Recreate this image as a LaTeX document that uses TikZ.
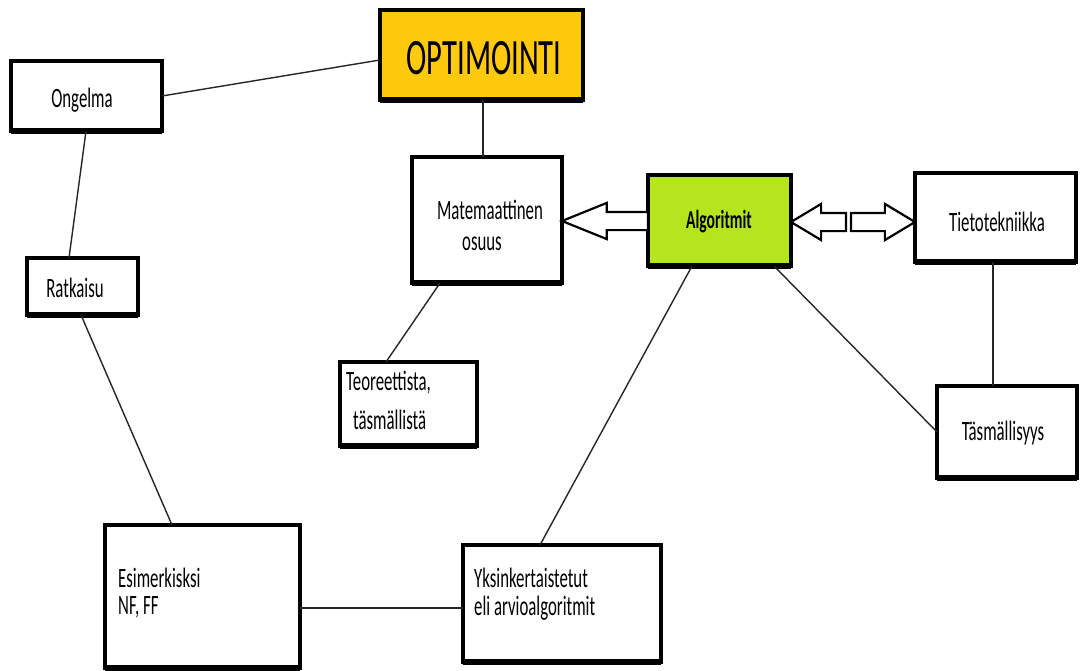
\documentclass[tikz,border=0pt]{standalone}
\usepackage{fontspec}
\setmainfont{Carlito}[FakeStretch=0.6]
\usetikzlibrary{shapes.arrows}
\definecolor{optfill}{HTML}{FFC90E}
\definecolor{algfill}{HTML}{B5E61D}
\tikzset{
  box/.style={draw=black, line width=3.5pt, fill=white, inner sep=0pt, outer sep=0pt, anchor=north west},
  heavy/.style={line width=6pt},
  link/.style={line width=1.4pt, draw=black!85},
  label/.style={font=\fontsize{28}{32}\selectfont, inner sep=0pt, text=black},
  hollow/.style={single arrow, draw=black, fill=white, line width=2.2pt, inner sep=8pt, outer sep=0pt, single arrow head extend=9pt}
}
\begin{document}
\begin{tikzpicture}[x=1pt,y=-1pt]
\useasboundingbox[fill=white] (0,0) rectangle (1081,671);

% boxes
\node[box, fill=optfill, minimum width=203pt, minimum height=90pt] (opt) at (380,10) {};
\node[box, minimum width=151pt, minimum height=70pt] (ong) at (11,61) {};
\node[box, minimum width=111pt, minimum height=57pt] (rat) at (27,258) {};
\node[box, minimum width=150pt, minimum height=126pt] (mat) at (412,157) {};
\node[box, fill=algfill, minimum width=143pt, minimum height=91pt] (alg) at (648,175) {};
\node[box, minimum width=161pt, minimum height=89pt] (tie) at (915,173) {};
\node[box, minimum width=137pt, minimum height=84pt] (teo) at (340,362) {};
\node[box, minimum width=140pt, minimum height=92pt] (tas) at (937,386) {};
\node[box, minimum width=195pt, minimum height=143pt] (esi) at (105,525) {};
\node[box, minimum width=198pt, minimum height=117pt] (yks) at (463,545) {};

% heavier lower edges
\foreach \n in {opt,ong,rat,mat,alg,tie,teo,tas,esi,yks}
  \draw[heavy] (\n.south west) -- (\n.south east);

% texts
\node[label, font=\fontsize{51}{56}\selectfont] (topt) at (484,58) {OPTIMOINTI};
\node[label] (tong) at (82,100) {Ongelma};
\node[label] (trat) at (75,288) {Ratkaisu};
\node[label] (tmat1) at (490,210) {Matemaattinen};
\node[label] (tmat2) at (482,244) {osuus};
\node[label, font=\fontsize{26}{30}\selectfont\bfseries] (talg) at (719,222) {Algoritmit};
\node[label] (ttie) at (997,222) {Tietotekniikka};
\node[label] (ttas) at (1003,433) {Täsmällisyys};
\node[label, anchor=west] (tteo1) at (346,383) {Teoreettista,};
\node[label, anchor=west] (tteo2) at (353,420) {täsmällistä};
\node[label, anchor=west] (tesi1) at (118,578) {Esimerkisksi};
\node[label, anchor=west] (tesi2) at (118,607) {NF, FF};
\node[label, anchor=west] (tyks1) at (474,578) {Yksinkertaistetut};
\node[label, anchor=west] (tyks2) at (474,608) {eli arvioalgoritmit};

% plain connectors
\draw[link] (ong.east |- 0,96) -- (opt.west |- 0,60);
\draw[link] (opt.south -| 483,0) -- (mat.north -| 483,0);
\draw[link] (ong.south -| 86,0) -- (rat.north -| 69,0);
\draw[link] (rat.south -| 81,0) -- (esi.north -| 172,0);
\draw[link] (esi.east |- 0,608) -- (yks.west |- 0,608);
\draw[link] (mat.south -| 440,0) -- (teo.north -| 386,0);
\draw[link] (alg.south -| 692,0) -- (yks.north -| 540,0);
\draw[link] (alg.south -| 774,0) -- (tas.west |- 0,432);
\draw[link] (tie.south -| 993,0) -- (tas.north -| 993,0);

% block arrows
\node[hollow, shape border rotate=180, minimum height=86pt, minimum width=35pt, single arrow tip angle=44, anchor=tip] (amat) at (mat.east |- 0,221) {};
\node[hollow, shape border rotate=180, minimum height=55pt, minimum width=35pt, single arrow tip angle=62, anchor=tip] (aleft) at (alg.east |- 0,222) {};
\node[hollow, minimum height=64pt, minimum width=35pt, single arrow tip angle=62, anchor=tip] (aright) at (tie.west |- 0,222) {};
\end{tikzpicture}
\end{document}
